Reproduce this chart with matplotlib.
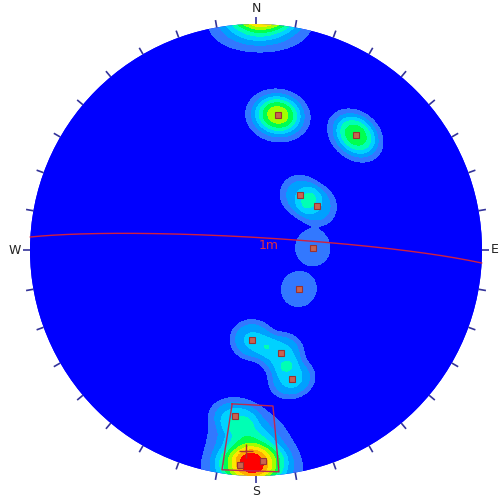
import numpy as np
import matplotlib
matplotlib.use('Agg')
import matplotlib.pyplot as plt
from matplotlib.patches import Circle

# ---- data (lower-hemisphere poles, trend/plunge in degrees) ----
pole_trend = [9.2, 41.0, 38.7, 54.2, 88.0, 132.3, 182.6, 166.3, 164.4, 187.2, 184.3, 178.1,
              180.8, 181.7, 182.8, 0.8]
pole_plunge = [39.3, 33.1, 64.5, 62.8, 69.5, 69.1, 57.3, 51.2, 40.4, 26.8, 5.2, 7.2,
               7.0, 13.0, 21.0, 1.5]
pole_weight = [4.1, 3.4, 1.4, 1.4, 1.0, 1.0, 1.75, 1.8, 1.8, 1.3, 1.0, 1.0,
               1.7, 2.0, 1.6, 3.2]
pole_spread = [2.18, 1.93, 1.43, 1.43, 0.54, 0.54, 1.43, 1.43, 1.43, 1.43, 1.5, 1.5,
               2.5, 3.0, 3.5, 3.5]
pole_marked = [True] * 12 + [False] * 4

mean_trend, mean_plunge = 182.8, 12.0
plane_dipdir, plane_dip = 3.3, 85.5
plane_label = '1m'
window_trend = [188.8, 173.8, 174.1, 188.8]
window_plunge = [31.7, 31.2, 1.5, 1.8]

density_levels = [0.55, 1.10, 1.65, 2.20, 2.75, 3.30, 3.85, 4.40, 4.95]
level_colors = ['#0000ff', '#3278ff', '#00a0ff', '#00d2ff', '#00ffb4',
                '#00ff50', '#a0ff00', '#ffe600', '#ffaa00', '#ff0000']
compass = ['N', 'E', 'S', 'W']
count_radius = np.radians(6.37)


def project(trend, plunge):
    trend = np.radians(np.asarray(trend, float))
    theta = np.radians(90.0 - np.asarray(plunge, float))
    r = np.sqrt(2) * np.sin(theta / 2)
    return r * np.sin(trend), r * np.cos(trend)


def vec(trend, plunge):
    t = np.radians(np.asarray(trend, float))
    p = np.radians(np.asarray(plunge, float))
    return np.stack([np.cos(p) * np.sin(t), np.cos(p) * np.cos(t), np.sin(p)], axis=-1)


W, H = 499, 504
fig = plt.figure(figsize=(W / 100, H / 100), dpi=100)
ax = fig.add_axes([0, 0, 1, 1])
cx, cy, R = 256, 250, 226
ax.set_xlim(-cx / R, (W - cx) / R)
ax.set_ylim((cy - H) / R, cy / R)
ax.axis('off')

# density grid
n = 520
g = np.linspace(-1.0, 1.0, n)
X, Y = np.meshgrid(g, g)
r = np.clip(np.hypot(X, Y), 0, 1)
theta = 2 * np.arcsin(r / np.sqrt(2))
gt = np.degrees(np.arctan2(X, Y))
gp = 90 - np.degrees(theta)
G = vec(gt, gp)
P = vec(pole_trend, pole_plunge)
dens = np.zeros_like(X)
for pv, w, sp in zip(P, pole_weight, pole_spread):
    dot = np.abs(G @ pv)
    ang = np.arccos(np.clip(dot, 0, 1))
    z = np.clip((ang - count_radius) / np.radians(sp), -50, 50)
    dens += w / (1 + np.exp(z))

circ = Circle((0, 0), 1, facecolor='#0000ff', edgecolor='none', zorder=1)
ax.add_patch(circ)
cs = ax.contourf(X, Y, dens, levels=[-1] + density_levels + [1e9],
                 colors=level_colors, zorder=2)
cs.set_clip_path(circ)

# ticks
for az in range(0, 360, 10):
    a = np.radians(az)
    ax.plot([np.sin(a), 1.033 * np.sin(a)], [np.cos(a), 1.033 * np.cos(a)],
            color='#33339a', lw=1.2, zorder=3, solid_capstyle='butt')
for lab, az in zip(compass, [0, 90, 180, 270]):
    a = np.radians(az)
    ha = 'center' if az in (0, 180) else ('left' if az == 90 else 'right')
    va = 'bottom' if az == 0 else ('top' if az == 180 else 'center')
    ax.text(1.038 * np.sin(a), 1.038 * np.cos(a), lab, ha=ha, va=va,
            fontsize=9, color='#222222', zorder=4)

# great circle
dd = np.radians(plane_dipdir)
dip = np.radians(plane_dip)
s = np.array([np.sin(dd - np.pi / 2), np.cos(dd - np.pi / 2), 0])
dv = np.array([np.cos(dip) * np.sin(dd), np.cos(dip) * np.cos(dd), np.sin(dip)])
t = np.linspace(0, np.pi, 200)
V = np.outer(np.cos(t), s) + np.outer(np.sin(t), dv)
gc_tr = np.degrees(np.arctan2(V[:, 0], V[:, 1]))
gc_pl = np.degrees(np.arcsin(np.clip(V[:, 2], -1, 1)))
gx, gy = project(gc_tr, gc_pl)
ax.plot(gx, gy, color='#d02040', lw=1.0, zorder=5)
ax.text(0.055, 0.022, plane_label, color='#e03040', fontsize=9,
        ha='center', va='center', zorder=6)

# window polygon
wx, wy = project(window_trend, window_plunge)
ax.plot(list(wx) + [wx[0]], list(wy) + [wy[0]], color='#c02850', lw=1.0, zorder=5)

# poles
px, py = project(pole_trend, pole_plunge)
m = np.array(pole_marked)
ax.plot(px[m], py[m], 's', ms=4, mfc='#c86450', mec='#993333', mew=0.8,
        ls='none', zorder=7)
mx, my = project(mean_trend, mean_plunge)
ax.plot([mx], [my], '+', ms=10, color='#b03030', mew=1.0, zorder=7)

fig.savefig('out.png', dpi=100)
